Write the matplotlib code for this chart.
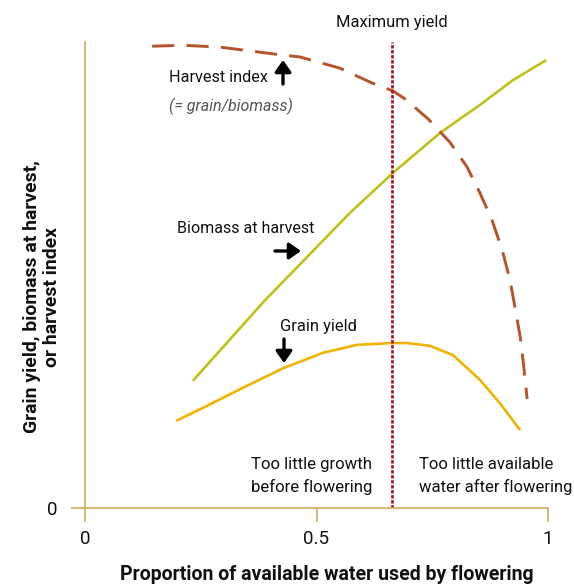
import matplotlib
matplotlib.use("Agg")
import matplotlib.pyplot as plt
import matplotlib.patches as mpatches

FONT = ['Roboto', 'DejaVu Sans']

# ---------------- data ----------------
harvest_x = [0.145, 0.212, 0.292, 0.410, 0.464, 0.550, 0.620, 0.665, 0.691, 0.741, 0.788,
             0.825, 0.853, 0.879, 0.901, 0.918, 0.929, 0.940, 0.946, 0.955]
harvest_y = [0.991, 0.993, 0.989, 0.974, 0.968, 0.944, 0.912, 0.895, 0.878, 0.835, 0.785,
             0.732, 0.676, 0.618, 0.554, 0.489, 0.429, 0.367, 0.318, 0.234]

biomass_x = [0.233, 0.389, 0.572, 0.665, 0.767, 0.853, 0.924, 0.996]
biomass_y = [0.273, 0.446, 0.633, 0.719, 0.805, 0.865, 0.918, 0.961]

grain_x = [0.197, 0.263, 0.335, 0.428, 0.514, 0.587, 0.663, 0.695, 0.745, 0.795,
           0.853, 0.896, 0.940]
grain_y = [0.187, 0.219, 0.255, 0.300, 0.333, 0.350, 0.354, 0.354, 0.348, 0.328,
           0.275, 0.225, 0.167]

max_yield_x = 0.663
xticks = [0, 0.5, 1]
xtick_labels = ['0', '0.5', '1']

# ---------------- figure ----------------
W, H = 574, 587
fig = plt.figure(figsize=(W / 100, H / 100), dpi=100)
ax = fig.add_axes([85 / W, 1 - 508 / H, 463 / W, 466 / H])
ax.set_xlim(0, 1)
ax.set_ylim(0, 1)

axis_col = '#d2aa5a'
for s in ['top', 'right']:
    ax.spines[s].set_visible(False)
for s in ['left', 'bottom']:
    ax.spines[s].set_color(axis_col)
    ax.spines[s].set_linewidth(1.2)

ax.set_xticks(xticks)
ax.set_xticklabels(xtick_labels, fontfamily=FONT, fontsize=13.5)
ax.set_yticks([0])
ax.set_yticklabels(['0'], fontfamily=FONT, fontsize=13.5)
ax.tick_params(axis='both', colors=axis_col, length=10, width=1.2, labelcolor='#111111')
ax.tick_params(axis='x', pad=6)
ax.tick_params(axis='y', pad=10)

ax.plot(biomass_x, biomass_y, color='#bcc21a', lw=1.9, solid_capstyle='butt')
ax.plot(grain_x, grain_y, color='#f0b400', lw=1.9, solid_capstyle='butt')
ax.plot(harvest_x, harvest_y, color='#b5532a', lw=2.1, dashes=(7.6, 4.2))
ax.plot([max_yield_x, max_yield_x], [0, 1], color='#a8182a', lw=2.0, dashes=(1.2, 0.6))

def P(px, py):
    return (px / W, 1 - py / H)

tf = fig.transFigure
kw = dict(transform=tf, fontfamily=FONT, color='#111111')

texts = []
def T(px, py, s, width, **k):
    t = fig.text(*P(px, py), s, **k)
    texts.append((t, width))
    return t

T(392, 22, 'Maximum yield', 112, ha='center', va='center', fontsize=13, **kw)
T(169, 77, 'Harvest index', 99, ha='left', va='center', fontsize=13, **kw)
T(169, 106, '(= grain/biomass)', 123, ha='left', va='center', fontsize=12,
  style='italic', transform=tf, fontfamily=FONT, color='#555555')
T(177, 228, 'Biomass at harvest', 137, ha='left', va='center', fontsize=13, **kw)
T(280, 327, 'Grain yield', 77, ha='left', va='center', fontsize=13, **kw)
T(372, 476, 'Too little growth\nbefore flowering', 121, ha='right', va='center',
  fontsize=13, linespacing=1.55, **kw)
T(419, 476, 'Too little available\nwater after flowering', 153, ha='left', va='center',
  fontsize=13, linespacing=1.55, **kw)
T(327, 575, 'Proportion of available water used by flowering', 415, ha='center',
  va='center', fontsize=14, fontweight='bold', **kw)
ylab = fig.text(*P(42, 297), 'Grain yield, biomass at harvest,\nor harvest index', ha='center',
                va='center', rotation=90, fontsize=13, fontweight='bold', linespacing=1.15, **kw)

# fit text widths to the reference (condensed typeface is not available)
renderer = fig.canvas.get_renderer()
for t, w in texts:
    bb = t.get_window_extent(renderer)
    t.set_fontsize(t.get_fontsize() * w / bb.width)
bb = ylab.get_window_extent(renderer)
ylab.set_fontsize(ylab.get_fontsize() * 274 / bb.height)

arrow = dict(arrowstyle='-|>,head_length=0.5,head_width=0.35', color='black', lw=2.4,
             shrinkA=0, shrinkB=0)
fig.add_artist(mpatches.FancyArrowPatch(P(283, 84), P(283, 60), transform=tf,
                                        mutation_scale=14, **arrow))
fig.add_artist(mpatches.FancyArrowPatch(P(275, 251), P(301, 251), transform=tf,
                                        mutation_scale=14, **arrow))
fig.add_artist(mpatches.FancyArrowPatch(P(284, 339), P(284, 363), transform=tf,
                                        mutation_scale=14, **arrow))

fig.savefig('out.png', dpi=100)
